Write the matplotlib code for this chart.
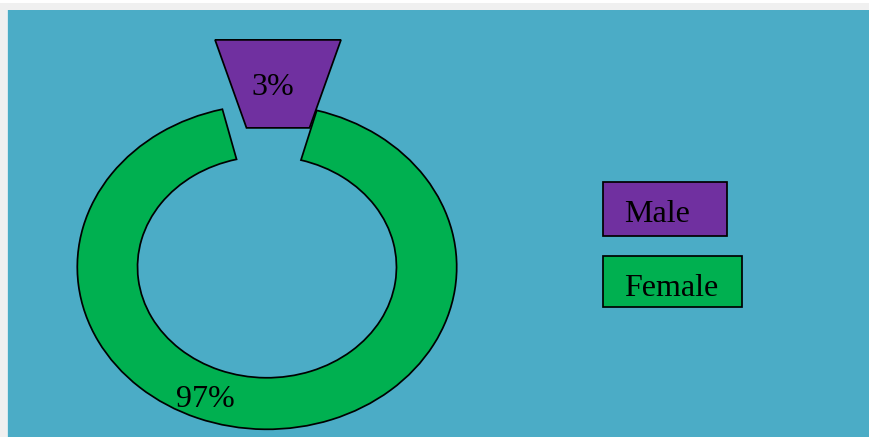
import numpy as np
import matplotlib
matplotlib.use("Agg")
import matplotlib.pyplot as plt
from matplotlib.patches import Wedge, Polygon, Rectangle

# Data
categories = ["Male", "Female"]
shares = [3, 97]          # percent
labels = ["3%", "97%"]
colors = ["#7030A0", "#00B050"]

W, H = 869, 437
fig = plt.figure(figsize=(W / 100, H / 100), dpi=100, facecolor="#F0F0F0")
serif = ["Liberation Serif", "DejaVu Serif"]
FS = 23


def px(x, y_top):
    """Figure pixel (from top-left) -> figure fraction."""
    return x / W, 1 - y_top / H


# white strip along the top edge and the teal chart panel
fig.patches.append(Rectangle((0, 1 - 3 / H), 1, 3 / H, transform=fig.transFigure,
                             facecolor="white", edgecolor="none", zorder=-3))
fig.patches.append(Rectangle((7 / W, 0), 1, 1 - 10 / H, transform=fig.transFigure,
                             facecolor="#D5E8EE", edgecolor="none", zorder=-2))
fig.patches.append(Rectangle((8 / W, 0), 1, 1 - 10 / H, transform=fig.transFigure,
                             facecolor="#4BACC6", edgecolor="none", zorder=-1))

# Doughnut axes: unit radius maps to 189.7 px horizontally, 162.3 px vertically
cx, cy = 267.0, 267.0
rx, ry = 189.7, 162.3
ax = fig.add_axes([(cx - rx) / W, (H - cy - ry) / H, 2 * rx / W, 2 * ry / H])
ax.set_xlim(-1, 1)
ax.set_ylim(-1, 1)
ax.axis("off")
ax.patch.set_alpha(0)

outer_r, ring_width = 1.0, 0.3175
pad_deg = 9.0            # clearance on each side of the detached slice
gap_center = 89.2        # direction (deg) of the detached slice
edge = dict(edgecolor="black", linewidth=1.25, clip_on=False)

total = sum(shares)
male_span = shares[0] / total * 360 + 2 * pad_deg
female_span = shares[1] / total * 360 - 2 * pad_deg

# ring segment for the large share
t1 = gap_center + male_span / 2
t2 = t1 + female_span
ax.add_patch(Wedge((0, 0), outer_r, t1, t2, width=ring_width,
                   facecolor=colors[1], **edge))

# detached segment for the small share, drawn with straight chords
explode = np.array([0.058, 0.314])
flare = np.deg2rad(17.0)
r_in, r_out = 0.568, 1.135
dirs = [np.array([np.sin(s * flare), np.cos(flare)]) for s in (-1, 1)]
corners = [explode + r_out * dirs[0], explode + r_out * dirs[1],
           explode + r_in * dirs[1], explode + r_in * dirs[0]]
ax.add_patch(Polygon(corners, closed=True, facecolor=colors[0], **edge))

y_lo, y_hi = explode[1] + r_in * np.cos(flare), explode[1] + r_out * np.cos(flare)
ax.text(explode[0] - 0.026, y_lo + 0.37 * (y_hi - y_lo), labels[0],
        ha="center", va="baseline", fontsize=FS, family=serif, color="black",
        clip_on=False)

label_ang = np.deg2rad(249.4)
label_r = 0.92
ax.text(label_r * np.cos(label_ang), label_r * np.sin(label_ang), labels[1],
        ha="center", va="baseline", fontsize=FS, family=serif, color="black",
        clip_on=False)

# Legend: coloured boxes holding the category names
legend_boxes = [(603, 182, 124, 54), (603, 256, 139, 51)]
baselines = [222, 296]
for (bx, by, bw, bh), base, name, col in zip(legend_boxes, baselines, categories, colors):
    x0, y0 = px(bx, by + bh)
    fig.patches.append(Rectangle((x0, y0), bw / W, bh / H, transform=fig.transFigure,
                                 facecolor=col, edgecolor="black", linewidth=1.25,
                                 zorder=2))
    tx, ty = px(bx + 21, base)
    fig.text(tx, ty, name, ha="left", va="baseline", fontsize=FS, family=serif,
             color="black", zorder=3)

fig.savefig("out.png", dpi=100, facecolor=fig.get_facecolor())
